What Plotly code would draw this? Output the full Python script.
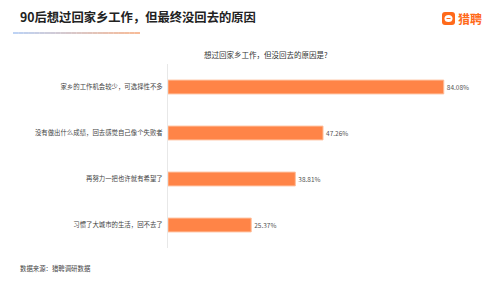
import plotly.graph_objects as go

categories = ["家乡的工作机会较少，可选择性不多",
              "没有做出什么成绩，回去感觉自己像个失败者",
              "再努力一把也许就有希望了",
              "习惯了大城市的生活，回不去了"]
values = [84.08, 47.26, 38.81, 25.37]
labels = ["84.08%", "47.26%", "38.81%", "25.37%"]

title = "90后想过回家乡工作，但最终没回去的原因"
subtitle = "想过回家乡工作，但没回去的原因是?"
source = "数据来源：猎聘调研数据"
brand = "猎聘"

FONT = "Noto Sans CJK SC"

W, H = 500, 281
ML, MR, MT, MB = 168, 4, 64, 33
PW, PH = W - ML - MR, H - MT - MB


def px(x):
    return (x - ML) / PW


def py(y):
    return (H - MB - y) / PH


fig = go.Figure(go.Bar(
    x=values, y=categories, orientation="h",
    marker=dict(color="#FF8447", line=dict(color="#FFBE9A", width=1)),
    width=0.3,
    text=labels, textposition="outside", cliponaxis=False,
    textfont=dict(size=6.5, color="#555555", family=FONT),
    hoverinfo="skip",
))

fig.update_layout(
    width=W, height=H,
    margin=dict(l=ML, r=MR, t=MT, b=MB),
    paper_bgcolor="white", plot_bgcolor="white",
    showlegend=False,
    font=dict(family=FONT),
)
fig.update_xaxes(range=[0, 100], visible=False, fixedrange=True)
fig.update_yaxes(autorange="reversed", showline=True, linecolor="#e8e8e8", linewidth=1,
                 ticks="", ticklabelstandoff=3, showgrid=False,
                 tickfont=dict(size=6.4, color="#444444", family=FONT), fixedrange=True)

ann = []
ann.append(dict(text="<b>" + title + "</b>", x=px(18), y=py(17), xref="paper", yref="paper",
                xanchor="left", yanchor="middle", showarrow=False,
                font=dict(size=12.3, color="#222222", family=FONT)))
ann.append(dict(text=subtitle, x=px(266), y=py(55), xref="paper", yref="paper",
                xanchor="center", yanchor="middle", showarrow=False,
                font=dict(size=7.5, color="#333333", family=FONT)))
ann.append(dict(text=source, x=px(18), y=py(268), xref="paper", yref="paper",
                xanchor="left", yanchor="middle", showarrow=False,
                font=dict(size=6.4, color="#444444", family=FONT)))
ann.append(dict(text="<b>" + brand + "</b>", x=px(456), y=py(18), xref="paper", yref="paper",
                xanchor="left", yanchor="middle", showarrow=False,
                font=dict(size=12, color="#FF6A1A", family=FONT)))

shapes = []
# gradient underline
n = 24
x0, x1, yy = 13, 140, 33
c0 = (168, 196, 240)
c1 = (245, 166, 120)
for i in range(n):
    t = i / (n - 1)
    c = tuple(int(c0[k] + (c1[k] - c0[k]) * t) for k in range(3))
    shapes.append(dict(type="line", xref="paper", yref="paper",
                       x0=px(x0 + (x1 - x0) * i / n), x1=px(x0 + (x1 - x0) * (i + 1) / n),
                       y0=py(yy), y1=py(yy),
                       line=dict(color="rgb(%d,%d,%d)" % c, width=1.5)))

# logo icon: rounded square
lx0, ly0, lx1, ly1, r = 442, 12, 455, 25, 3
path = (f"M {px(lx0 + r)} {py(ly0)} L {px(lx1 - r)} {py(ly0)} Q {px(lx1)} {py(ly0)} {px(lx1)} {py(ly0 + r)} "
        f"L {px(lx1)} {py(ly1 - r)} Q {px(lx1)} {py(ly1)} {px(lx1 - r)} {py(ly1)} "
        f"L {px(lx0 + r)} {py(ly1)} Q {px(lx0)} {py(ly1)} {px(lx0)} {py(ly1 - r)} "
        f"L {px(lx0)} {py(ly0 + r)} Q {px(lx0)} {py(ly0)} {px(lx0 + r)} {py(ly0)} Z")
shapes.append(dict(type="path", xref="paper", yref="paper", path=path,
                   fillcolor="#FF6A1A", line=dict(width=0)))
shapes.append(dict(type="circle", xref="paper", yref="paper",
                   x0=px(444.5), x1=px(452.5), y0=py(15), y1=py(22),
                   fillcolor="white", line=dict(width=0)))
shapes.append(dict(type="line", xref="paper", yref="paper",
                   x0=px(446.5), x1=px(450.5), y0=py(18.5), y1=py(18.5),
                   line=dict(color="#FF6A1A", width=1)))

fig.update_layout(annotations=ann, shapes=shapes)
fig.write_html("out.html")
